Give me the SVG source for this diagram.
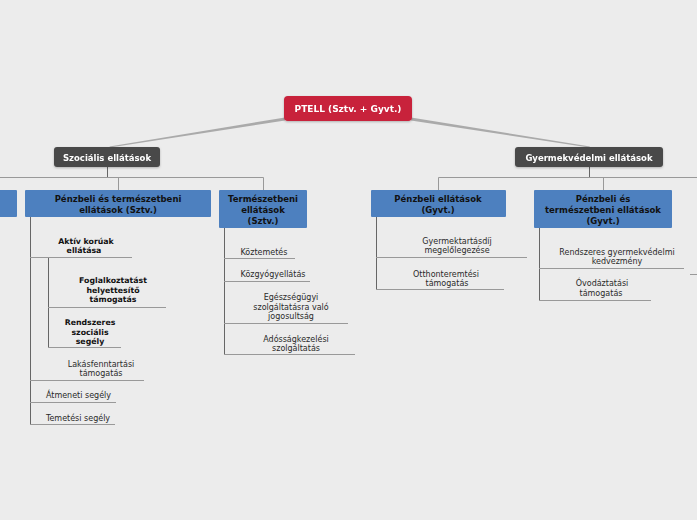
<svg xmlns="http://www.w3.org/2000/svg" width="697" height="520" viewBox="0 0 697 520">
<defs>
<filter id="sh" x="-10%" y="-20%" width="120%" height="150%"><feDropShadow dx="0" dy="1" stdDeviation="1" flood-color="#000" flood-opacity="0.25"/></filter>
</defs>
<style>
.bg{fill:#ececec}
.root{fill:#c8203a}
.dark{fill:#4a4a4a}
.blue{fill:#4d80bf}
.wt{font-family:"DejaVu Sans",sans-serif;font-weight:bold;fill:#fff;text-anchor:middle}
.bt{font-family:"DejaVu Sans",sans-serif;font-weight:bold;font-size:8.5px;fill:#111;text-anchor:middle}
.sb{font-family:"DejaVu Sans",sans-serif;font-weight:bold;font-size:7.8px;fill:#111;text-anchor:middle}
.st{font-family:"DejaVu Sans",sans-serif;font-size:8px;fill:#2a2a2a;text-anchor:middle}
.c{stroke:#999;stroke-width:1;fill:none}
.v{stroke:#666;stroke-width:1;fill:none}
.u{stroke:#999;stroke-width:1;fill:none}
.taper{fill:#aaa}
</style>
<rect class="bg" x="0" y="0" width="697" height="520"/>
<g id="connectors">
<path class="taper" d="M285,117.5 L285,120.5 L110,147.5 L109.5,146.5 Z"/>
<path class="taper" d="M411,117.5 L411,120.5 L589,147.5 L590,146.5 Z"/>
<path class="v" d="M107.5,167 V177.5"/>
<path class="c" d="M0,177.5 H263.5 M118.5,177.5 V190 M263.5,177.5 V190"/>
<path class="v" d="M589.5,167 V177.5"/>
<path class="c" d="M438.5,177.5 H697 M438.5,177.5 V190 M603.5,177.5 V190"/>
<path class="v" d="M30.5,217 V424.5 M48.5,257.5 V347.5"/>
<path class="v" d="M224.5,228 V354.5"/>
<path class="v" d="M376.5,217 V289.5"/>
<path class="v" d="M539.5,228 V300.5"/>
<path class="u" d="M690,274.5 H697"/>
</g>
<g id="root" filter="url(#sh)">
<rect class="root" x="284" y="96" width="128" height="25" rx="4"/>
<text class="wt" x="348" y="112" font-size="9">PTELL (Sztv. + Gyvt.)</text>
</g>
<g id="szocialis" filter="url(#sh)">
<rect class="dark" x="54" y="147" width="106" height="20" rx="3"/>
<text class="wt" x="107" y="161" font-size="8.5">Szociális ellátások</text>
</g>
<g id="gyermekvedelmi" filter="url(#sh)">
<rect class="dark" x="515" y="147" width="148" height="20" rx="3"/>
<text class="wt" x="589" y="161" font-size="8.5">Gyermekvédelmi ellátások</text>
</g>
<g id="left-offscreen">
<rect class="blue" x="-10" y="190" width="27" height="27" rx="1"/>
</g>
<g id="penzbeli-termeszetbeni-sztv">
<rect class="blue" x="25" y="190" width="186" height="27" rx="1"/>
<text class="bt" x="118" y="202">Pénzbeli és természetbeni</text>
<text class="bt" x="118" y="213">ellátások (Sztv.)</text>
</g>
<g id="termeszetbeni-sztv">
<rect class="blue" x="219" y="190" width="88" height="38" rx="1"/>
<text class="bt" x="263" y="202">Természetbeni</text>
<text class="bt" x="263" y="213">ellátások</text>
<text class="bt" x="263" y="224">(Sztv.)</text>
</g>
<g id="penzbeli-gyvt">
<rect class="blue" x="371" y="190" width="135" height="27" rx="1"/>
<text class="bt" x="438" y="202">Pénzbeli ellátások</text>
<text class="bt" x="438" y="213">(Gyvt.)</text>
</g>
<g id="penzbeli-termeszetbeni-gyvt">
<rect class="blue" x="534" y="190" width="138" height="38" rx="1"/>
<text class="bt" x="603" y="202">Pénzbeli és</text>
<text class="bt" x="603" y="213">természetbeni ellátások</text>
<text class="bt" x="603" y="224">(Gyvt.)</text>
</g>
<g id="aktiv-koruak">
<text class="sb" x="86" y="244">Aktív korúak</text>
<text class="sb" x="84" y="253">ellátása</text>
<path class="u" d="M30,257.5 H132"/>
</g>
<g id="foglalkoztatast">
<text class="sb" x="113" y="283">Foglalkoztatást</text>
<text class="sb" x="113" y="293">helyettesítő</text>
<text class="sb" x="113" y="302">támogatás</text>
<path class="u" d="M48,307.5 H166"/>
</g>
<g id="rendszeres-szocialis">
<text class="sb" x="90" y="325">Rendszeres</text>
<text class="sb" x="90" y="335">szociális</text>
<text class="sb" x="90" y="344">segély</text>
<path class="u" d="M48,347.5 H121"/>
</g>
<g id="lakasfenntartasi">
<text class="st" x="101" y="367">Lakásfenntartási</text>
<text class="st" x="101" y="376">támogatás</text>
<path class="u" d="M30,380.5 H144"/>
</g>
<g id="atmeneti">
<text class="st" x="78.5" y="398">Átmeneti segély</text>
<path class="u" d="M30,402.5 H116"/>
</g>
<g id="temetesi">
<text class="st" x="78" y="421">Temetési segély</text>
<path class="u" d="M30,424.5 H115"/>
</g>
<g id="koztemetes">
<text class="st" x="264" y="255">Köztemetés</text>
<path class="u" d="M224,258.5 H295"/>
</g>
<g id="kozgyogyellatas">
<text class="st" x="273" y="277">Közgyógyellátás</text>
<path class="u" d="M224,281.5 H310"/>
</g>
<g id="egeszsegugyi">
<text class="st" x="291" y="300">Egészségügyi</text>
<text class="st" x="291" y="310">szolgáltatásra való</text>
<text class="st" x="291" y="319">jogosultság</text>
<path class="u" d="M224,323.5 H348"/>
</g>
<g id="adossagkezelesi">
<text class="st" x="296" y="342">Adósságkezelési</text>
<text class="st" x="296" y="351">szolgáltatás</text>
<path class="u" d="M224,354.5 H355"/>
</g>
<g id="gyermektartasdij">
<text class="st" x="457" y="244">Gyermektartásdíj</text>
<text class="st" x="457" y="253">megelőlegezése</text>
<path class="u" d="M376,257.5 H527"/>
</g>
<g id="otthonteremtesi">
<text class="st" x="446" y="277">Otthonteremtési</text>
<text class="st" x="447" y="286">támogatás</text>
<path class="u" d="M376,289.5 H504"/>
</g>
<g id="rendszeres-gyermekvedelmi">
<text class="st" x="617" y="255">Rendszeres gyermekvédelmi</text>
<text class="st" x="617" y="264">kedvezmény</text>
<path class="u" d="M539,268.5 H684"/>
</g>
<g id="ovodaztatasi">
<text class="st" x="602" y="286">Óvodáztatási</text>
<text class="st" x="601" y="296">támogatás</text>
<path class="u" d="M539,300.5 H651"/>
</g>
</svg>
